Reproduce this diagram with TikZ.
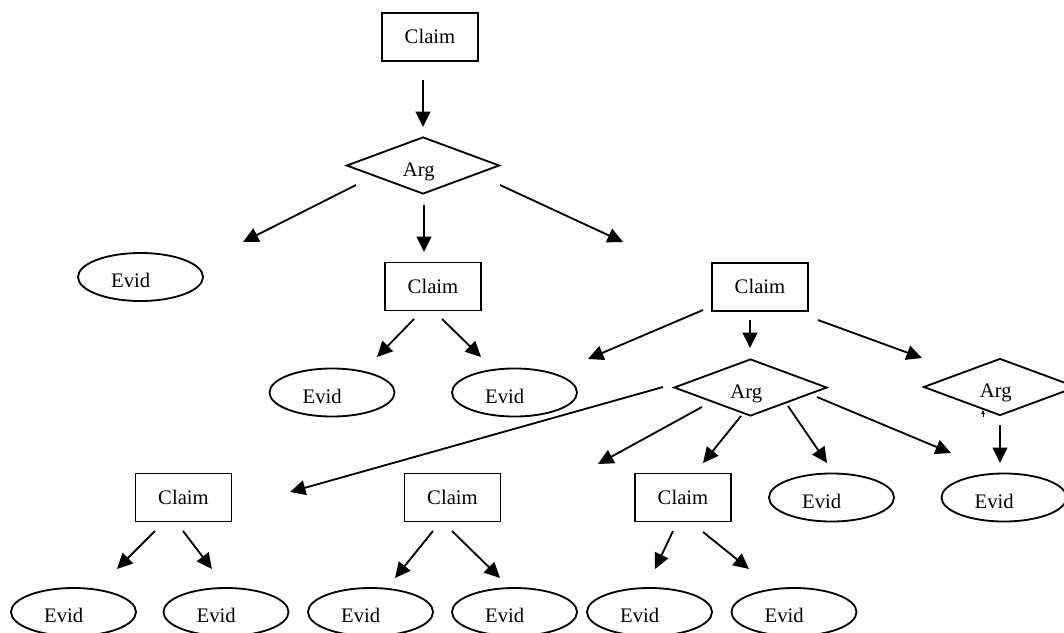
\documentclass[tikz,border=0pt]{standalone}
\usepackage{fontspec}
\setmainfont{Liberation Serif}
\usetikzlibrary{shapes.geometric,arrows.meta}
\tikzset{
  every node/.style={font=\fontsize{14.7}{17}\selectfont},
  claim/.style={draw, rectangle, line width=1.3pt, inner sep=0pt,
    minimum width=2.4cm, minimum height=1.2cm, text height=9.8pt, text depth=0pt},
  evid/.style={draw, ellipse, line width=1.3pt, inner sep=0pt,
    minimum width=3.125cm, minimum height=1.2cm, text height=15.4pt, text depth=0pt,
    execute at begin node={\hspace*{-14pt}}},
  arg/.style={draw, diamond, line width=1.3pt, inner sep=0pt,
    minimum width=3.825cm, minimum height=1.425cm, text height=15.4pt, text depth=0pt,
    execute at begin node={\hspace*{-6pt}}},
  arr/.style={-{Triangle[length=11pt,width=10.5pt]}, line width=1.3pt},
  tinyarr/.style={-{Triangle[length=3pt,width=2.5pt]}, line width=0.5pt}
}

\begin{document}
\begin{tikzpicture}[x=0.025cm,y=-0.025cm]
\useasboundingbox (0,0) rectangle (1064,632);
\clip (0,0) rectangle (1064,632);
% nodes
\node[claim] (c0) at (430,37) {Claim};
\node[arg] (g0) at (423,165.5) {Arg};
\node[evid] (e0) at (140.5,277) {Evid};
\node[claim] (c1) at (433,286.5) {Claim};
\node[claim] (c2) at (760,287) {Claim};
\node[evid] (e1) at (332,392.5) {Evid};
\node[evid] (e2) at (514.5,392.5) {Evid};
\node[arg] (g1) at (750.5,387.5) {Arg};
\node[arg] (g2) at (1000,387) {Arg};
\node[claim] (c3) at (183.5,497.5) {Claim};
\node[claim] (c4) at (452.5,497.5) {Claim};
\node[claim] (c5) at (683,497.5) {Claim};
\node[evid] (e3) at (831.5,497.5) {Evid};
\node[evid] (e4) at (1004,497.5) {Evid};
\node[evid] (e5) at (73.5,612) {Evid};
\node[evid] (e6) at (226,612) {Evid};
\node[evid] (e7) at (370.5,612) {Evid};
\node[evid] (e8) at (514.5,612) {Evid};
\node[evid] (e9) at (649.5,612) {Evid};
\node[evid] (e10) at (794,612) {Evid};
% arrow ends
\coordinate (c0s) at (423,80);   \coordinate (g0n) at (423,127);
\coordinate (g0w) at (356,185);  \coordinate (g0wt) at (243,242);
\coordinate (g0s) at (424,205);  \coordinate (c1n) at (424,252);
\coordinate (g0e) at (500,185);  \coordinate (g0et) at (623,242);
\coordinate (c1w) at (414,319);  \coordinate (e1n) at (377,357);
\coordinate (c1e) at (442,319);  \coordinate (e2n) at (481,357);
\coordinate (c2w) at (703,310);  \coordinate (c2wt) at (588,359);
\coordinate (c2s) at (750,320);  \coordinate (g1n) at (750,348);
\coordinate (c2e) at (818,320);  \coordinate (g2w) at (922,358);
\coordinate (g1w) at (663,387);  \coordinate (c3e) at (290,492);
\coordinate (g1sw) at (702,407); \coordinate (g1swt) at (598,464);
\coordinate (g1s) at (741,416);  \coordinate (c5n) at (703,463);
\coordinate (g1se) at (788,406); \coordinate (e3n) at (827,463);
\coordinate (g1e) at (817,397);  \coordinate (e4w) at (951,453);
\coordinate (g2s) at (1000,425); \coordinate (e4n) at (1000,463);
\coordinate (g2b) at (983,417);  \coordinate (g2bt) at (983,410);
\coordinate (c3w) at (155,531);  \coordinate (e5n) at (117,569);
\coordinate (c3s) at (183,531);  \coordinate (e6n) at (212,569);
\coordinate (c4w) at (433,531);  \coordinate (e7n) at (395,578);
\coordinate (c4s) at (452,531);  \coordinate (e8n) at (500,578);
\coordinate (c5w) at (673,531);  \coordinate (e9n) at (655,569);
\coordinate (c5s) at (703,532);  \coordinate (e10n) at (749,569);
% arrows
\draw[arr] (c0s) -- (g0n);
\draw[arr] (g0w) -- (g0wt);
\draw[arr] (g0s) -- (c1n);
\draw[arr] (g0e) -- (g0et);
\draw[arr] (c1w) -- (e1n);
\draw[arr] (c1e) -- (e2n);
\draw[arr] (c2w) -- (c2wt);
\draw[arr] (c2s) -- (g1n);
\draw[arr] (c2e) -- (g2w);
\draw[arr] (g1w) -- (c3e);
\draw[arr] (g1sw) -- (g1swt);
\draw[arr] (g1s) -- (c5n);
\draw[arr] (g1se) -- (e3n);
\draw[arr] (g1e) -- (e4w);
\draw[arr] (g2s) -- (e4n);
\draw[tinyarr] (g2b) -- (g2bt);
\draw[arr] (c3w) -- (e5n);
\draw[arr] (c3s) -- (e6n);
\draw[arr] (c4w) -- (e7n);
\draw[arr] (c4s) -- (e8n);
\draw[arr] (c5w) -- (e9n);
\draw[arr] (c5s) -- (e10n);
\end{tikzpicture}
\end{document}
